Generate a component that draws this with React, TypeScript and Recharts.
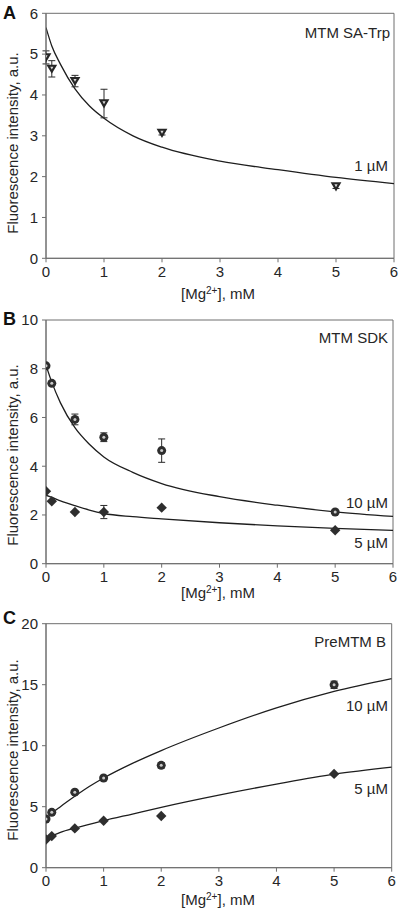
import React from 'react'
import { ComposedChart, Line, Scatter, ErrorBar, XAxis, YAxis, ReferenceArea } from 'recharts'

const FONT = 'Arial, "Liberation Sans", Helvetica, sans-serif'
const AXIS = '#6e6e6e'
const INK = '#262626'

// concentrations of Mg2+ (mM) used for the measured points
const concX = [0, 0.1, 0.5, 1, 2, 5]
const fitX = [0, 0.1, 0.25, 0.5, 0.75, 1, 1.5, 2, 3, 4, 5, 6]
const xTicks = [0, 1, 2, 3, 4, 5, 6]

// A: MTM SA-Trp, 1 uM
const aMean = [4.92, 4.64, 4.34, 3.79, 3.07, 1.76]
const aErr = [0.16, 0.2, 0.14, 0.35, 0.05, 0.05]
const aFit = [5.65, 5.2, 4.75, 4.15, 3.73, 3.43, 3.0, 2.72, 2.38, 2.17, 1.98, 1.83]
const aTicks = [0, 1, 2, 3, 4, 5, 6]

// B: MTM SDK, 10 uM and 5 uM
const b10Mean = [8.12, 7.4, 5.92, 5.19, 4.64, 2.12]
const b10Err = [0, 0, 0.22, 0.18, 0.48, 0]
const b5Mean = [2.97, 2.56, 2.12, 2.12, 2.3, 1.37]
const b5Err = [0, 0, 0, 0.27, 0, 0]
const b10Fit = [8.15, 7.45, 6.6, 5.58, 4.9, 4.38, 3.75, 3.29, 2.75, 2.4, 2.13, 1.94]
const b5Fit = [2.81, 2.72, 2.58, 2.38, 2.2, 2.06, 1.93, 1.84, 1.68, 1.55, 1.45, 1.37]
const bTicks = [0, 2, 4, 6, 8, 10]

// C: PreMTM B, 10 uM and 5 uM
const c10Mean = [3.99, 4.54, 6.19, 7.35, 8.39, 14.99]
const c10Err = [0, 0, 0, 0, 0.22, 0.3]
const c5Mean = [2.31, 2.59, 3.22, 3.85, 4.24, 7.69]
const c5Err = [0, 0, 0, 0, 0, 0]
const c10Fit = [4.0, 4.45, 5.0, 5.85, 6.65, 7.35, 8.55, 9.6, 11.45, 13.1, 14.45, 15.5]
const c5Fit = [2.38, 2.6, 2.9, 3.25, 3.55, 3.85, 4.4, 4.95, 5.95, 6.85, 7.67, 8.25]
const cTicks = [0, 5, 10, 15, 20]

const points = (ys: number[], errs: number[]) => concX.map((x, i) => ({ x, y: ys[i], err: errs[i] }))
const curve = (ys: number[]) => fitX.map((x, i) => ({ x, y: ys[i] }))

const TriangleDown = (p: any) => {
  const { cx, cy } = p
  return (
    <g>
      <path d={`M${cx - 5.4},${cy - 4.2} L${cx + 5.4},${cy - 4.2} L${cx},${cy + 5} Z`} fill="#262626" />
      <path d={`M${cx - 1.6},${cy - 2.2} L${cx + 1.6},${cy - 2.2} L${cx},${cy + 0.7} Z`} fill="#d8d8d8" />
    </g>
  )
}

const Dot = (p: any) => {
  const { cx, cy } = p
  return (
    <g>
      <circle cx={cx} cy={cy} r={4.5} fill="#2e2e2e" />
      <circle cx={cx} cy={cy} r={1.5} fill="#c8c8c8" />
    </g>
  )
}

const Diamond = (p: any) => {
  const { cx, cy } = p
  return <path d={`M${cx},${cy - 5.2} L${cx + 5.2},${cy} L${cx},${cy + 5.2} L${cx - 5.2},${cy} Z`} fill="#2e2e2e" />
}

type Series = { data: { x: number; y: number; err: number }[]; shape: any; fit: { x: number; y: number }[] }
type Note = { text: string; right: number; y: number }

interface PanelProps {
  letter: string
  top: number
  height: number
  plotTop: number
  plotBottom: number
  plotRight: number
  yMax: number
  yTicks: number[]
  series: Series[]
  notes: Note[]
  letterY: number
  xLabelY: number
  yLabelY: number
}

function Panel({ letter, top, height, plotTop, plotBottom, plotRight, yMax, yTicks, series, notes, letterY, xLabelY, yLabelY }: PanelProps) {
  const tick = { fill: INK, fontSize: 15, fontFamily: FONT }
  const text: React.CSSProperties = { position: 'absolute', fontFamily: FONT, color: INK, lineHeight: 1, whiteSpace: 'nowrap' }
  return (
    <div style={{ position: 'absolute', left: 0, top, width: 400, height }}>
      <ComposedChart width={400} height={height} margin={{ top: plotTop, right: 400 - plotRight, left: 0, bottom: 0 }}>
        <XAxis type="number" dataKey="x" domain={[0, 6]} ticks={xTicks} allowDataOverflow height={height - plotBottom}
          stroke={AXIS} tickSize={4} tickMargin={4} tick={tick} />
        <YAxis type="number" dataKey="y" domain={[0, yMax]} ticks={yTicks} allowDataOverflow width={46}
          stroke={AXIS} tickSize={4} tickMargin={4} tick={tick} />
        <ReferenceArea x1={0} x2={6} y1={0} y2={yMax} fill="none" stroke={AXIS} strokeWidth={1} ifOverflow="visible" />
        {series.map((s, i) => (
          <Line key={'l' + i} data={s.fit} dataKey="y" type="monotone" stroke="#1e1e1e" strokeWidth={1.3}
            dot={false} activeDot={false} isAnimationActive={false} />
        ))}
        {series.map((s, i) => (
          <Scatter key={'s' + i} data={s.data} dataKey="y" shape={s.shape} isAnimationActive={false}>
            <ErrorBar dataKey="err" direction="y" width={3.5} stroke="#2a2a2a" strokeWidth={1} isAnimationActive={false} />
          </Scatter>
        ))}
      </ComposedChart>
      <div style={{ ...text, left: 3, top: letterY, transform: 'translateY(-50%)', fontSize: 18, fontWeight: 'bold', color: '#111' }}>{letter}</div>
      {notes.map((n, i) => (
        <div key={i} style={{ ...text, right: 400 - n.right, top: n.y, transform: 'translateY(-50%)', fontSize: 15 }}>{n.text}</div>
      ))}
      <div style={{ ...text, left: 218, top: xLabelY, transform: 'translate(-50%, -50%)', fontSize: 15 }}>
        [Mg<sup style={{ fontSize: 10, verticalAlign: 0, position: 'relative', top: -5 }}>2+</sup>], mM
      </div>
      <div style={{ ...text, left: 12, top: yLabelY, transform: 'translate(-50%, -50%) rotate(-90deg)', fontSize: 15 }}>
        Fluorescence intensity, a.u.
      </div>
    </div>
  )
}

export default function App() {
  return (
    <div style={{ position: 'absolute', left: 0, top: 0, width: 400, height: 911, background: '#fff' }}>
      <Panel letter="A" top={0} height={300} plotTop={13.3} plotBottom={258.3} plotRight={394} yMax={6} yTicks={aTicks}
        series={[{ data: points(aMean, aErr), shape: TriangleDown, fit: curve(aFit) }]}
        notes={[{ text: 'MTM SA-Trp', right: 390, y: 32 }, { text: '1 µM', right: 388, y: 165 }]}
        letterY={13} xLabelY={293} yLabelY={143} />
      <Panel letter="B" top={300} height={300} plotTop={20} plotBottom={263.7} plotRight={393} yMax={10} yTicks={bTicks}
        series={[
          { data: points(b10Mean, b10Err), shape: Dot, fit: curve(b10Fit) },
          { data: points(b5Mean, b5Err), shape: Diamond, fit: curve(b5Fit) },
        ]}
        notes={[{ text: 'MTM SDK', right: 388, y: 36.7 }, { text: '10 µM', right: 388, y: 201.7 }, { text: '5 µM', right: 388, y: 242 }]}
        letterY={19} xLabelY={292} yLabelY={155} />
      <Panel letter="C" top={600} height={311} plotTop={23.7} plotBottom={267.7} plotRight={391.7} yMax={20} yTicks={cTicks}
        series={[
          { data: points(c10Mean, c10Err), shape: Dot, fit: curve(c10Fit) },
          { data: points(c5Mean, c5Err), shape: Diamond, fit: curve(c5Fit) },
        ]}
        notes={[{ text: 'PreMTM B', right: 386, y: 41 }, { text: '10 µM', right: 388, y: 105 }, { text: '5 µM', right: 388, y: 188 }]}
        letterY={18} xLabelY={299} yLabelY={150} />
    </div>
  )
}
